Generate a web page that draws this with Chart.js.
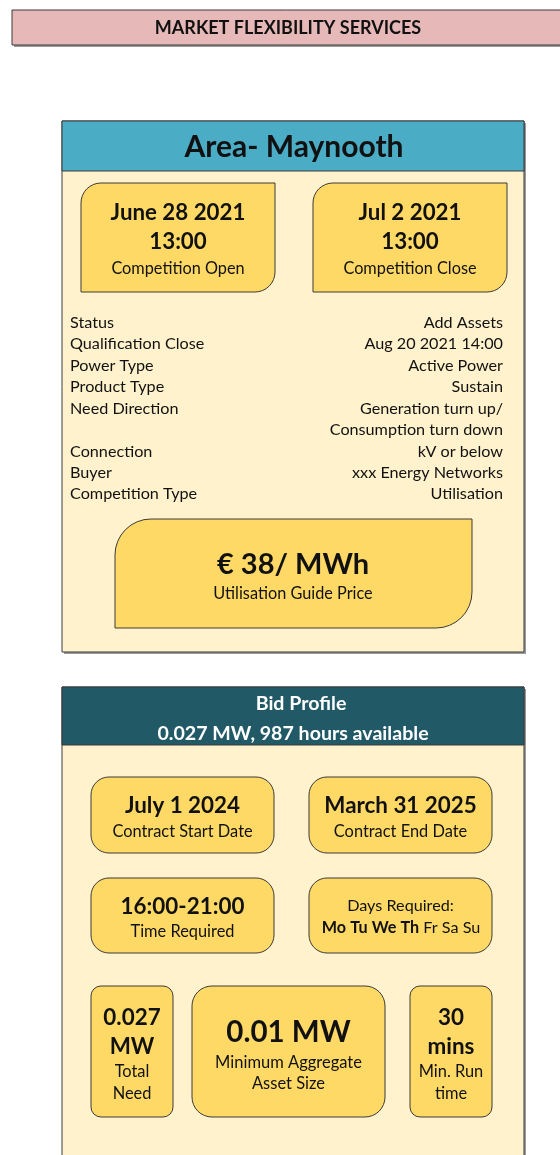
<!DOCTYPE html>
<html>
<head>
<meta charset="utf-8">
<title>Market Flexibility Services</title>
<script src="https://cdn.jsdelivr.net/npm/chart.js@4/dist/chart.umd.min.js"></script>
<style>
  html, body { margin: 0; padding: 0; background: #fff; }
  canvas { display: block; }
</style>
</head>
<body>
<canvas id="sheet" width="560" height="1155"></canvas>
<script>
/* ── Values ─────────────────────────────────────────────────── */
var sectionTitle      = 'MARKET FLEXIBILITY SERVICES';
var areaTitle         = 'Area- Maynooth';
var competitionDates  = ['June 28 2021', 'Jul 2 2021'];
var competitionTimes  = ['13:00', '13:00'];
var competitionLabels = ['Competition Open', 'Competition Close'];
var infoLabels = ['Status', 'Qualification Close', 'Power Type', 'Product Type',
                  'Need Direction', '', 'Connection', 'Buyer', 'Competition Type'];
var infoValues = ['Add Assets', 'Aug 20 2021 14:00', 'Active Power', 'Sustain',
                  'Generation turn up/', 'Consumption turn down', 'kV or below',
                  'xxx Energy Networks', 'Utilisation'];
var guidePrice      = ['€ 38/ MWh', 'Utilisation Guide Price'];
var bidTitle        = ['Bid Profile', '0.027 MW, 987 hours available'];
var contractDates   = ['July 1 2024', 'March 31 2025'];
var contractLabels  = ['Contract Start Date', 'Contract End Date'];
var timeRequired    = ['16:00-21:00', 'Time Required'];
var dayNames        = ['Mo', 'Tu', 'We', 'Th', 'Fr', 'Sa', 'Su'];
var dayRequired     = [true, true, true, true, false, false, false];
var bottomValues    = [['0.027', 'MW'], ['0.01 MW'], ['30', 'mins']];
var bottomLabels    = [['Total', 'Need'], ['Minimum Aggregate', 'Asset Size'], ['Min. Run', 'time']];

/* ── Styles ─────────────────────────────────────────────────── */
var FONT   = "Lato, 'Open Sans', sans-serif";
var INK    = '#111';
var EDGE   = '#3a3a3a';
var SHADOW = '#9a9a9a';
var PINK   = '#e6b8b7';
var BLUE   = '#4bacc6';
var TEAL   = '#215967';
var CREAM  = '#fff2cc';
var GOLD   = '#ffd966';
var NUDGE  = 1;   // Lato sits a touch high with a middle baseline

/* ── Drawing plugin: everything placed through the chart scales ─ */
var sheetPlugin = {
    id: 'sheet',
    beforeDraw: function (chart) {
        var ctx = chart.ctx;
        var sx = chart.scales.x, sy = chart.scales.y;
        function X(v) { return sx.getPixelForValue(v); }
        function Y(v) { return sy.getPixelForValue(v); }

        function box(x0, y0, x1, y1, fill, radii, shadow) {
            var x = X(x0), y = Y(y0), w = X(x1) - x, h = Y(y1) - y;
            if (shadow) {
                ctx.fillStyle = SHADOW;
                ctx.beginPath();
                ctx.roundRect(x + 2, y + 2, w, h, radii || 0);
                ctx.fill();
            }
            ctx.beginPath();
            ctx.roundRect(x, y, w, h, radii || 0);
            ctx.fillStyle = fill;
            ctx.fill();
            ctx.lineWidth = 1;
            ctx.strokeStyle = EDGE;
            ctx.stroke();
        }
        function text(str, x, y, size, bold, color, align) {
            ctx.font = (bold ? 'bold ' : '') + size + 'px ' + FONT;
            ctx.fillStyle = color || INK;
            ctx.textAlign = align || 'center';
            ctx.textBaseline = 'middle';
            ctx.fillText(str, X(x), Y(y + NUDGE));
        }

        ctx.save();

        // Section header
        box(12, 10, 575, 45, PINK, 0, true);
        text(sectionTitle, 288, 27, 18, true);

        // Area panel
        box(62, 121, 524, 652, CREAM, 0, true);
        box(62, 121, 524, 171, BLUE, 0, false);
        text(areaTitle, 294, 146, 30, true);

        var compX = [[81, 275], [313, 507]];
        compX.forEach(function (c, i) {
            box(c[0], 183, c[1], 292, GOLD, [20, 0, 20, 0], false);
            var mid = (c[0] + c[1]) / 2;
            text(competitionDates[i], mid, 212, 22.3, true);
            text(competitionTimes[i], mid, 241, 22.3, true);
            text(competitionLabels[i], mid, 268, 16.3, false);
        });

        var rowY = [322, 343, 365, 386, 408, 429, 451, 472, 493];
        infoLabels.forEach(function (lab, i) {
            if (lab) text(lab, 70, rowY[i], 16.2, false, INK, 'left');
            text(infoValues[i], 503, rowY[i], 16.2, false, INK, 'right');
        });

        box(115, 519, 472, 628, GOLD, [36, 0, 36, 0], false);
        text(guidePrice[0], 293, 564, 29, true);
        text(guidePrice[1], 293, 593, 16.3, false);

        // Bid profile panel
        box(62, 687, 524, 1175, CREAM, 0, true);
        box(62, 687, 524, 745, TEAL, 0, false);
        text(bidTitle[0], 301, 703, 19.6, true, '#fff');
        text(bidTitle[1], 293, 733, 19.6, true, '#fff');

        var pairX = [[91, 274], [309, 492]];
        pairX.forEach(function (c, i) {
            box(c[0], 777, c[1], 853, GOLD, 18, false);
            var mid = (c[0] + c[1]) / 2;
            text(contractDates[i], mid, 805, 22.4, true);
            text(contractLabels[i], mid, 831, 16.4, false);
        });

        box(91, 878, 274, 953, GOLD, 18, false);
        text(timeRequired[0], 182.5, 906, 22.4, true);
        text(timeRequired[1], 182.5, 931, 16.4, false);

        box(309, 878, 492, 953, GOLD, 18, false);
        text('Days Required:', 400.5, 905, 16.2, false);
        // day row: bold for required days, measured to centre the line
        var daySize = '16.2px ';
        var parts = dayNames.map(function (d, i) {
            ctx.font = (dayRequired[i] ? 'bold ' : '') + daySize + FONT;
            return { s: d, b: dayRequired[i], w: ctx.measureText(d).width };
        });
        ctx.font = daySize + FONT;
        var gap = ctx.measureText(' ').width;
        var total = parts.reduce(function (a, p) { return a + p.w; }, 0) + gap * (parts.length - 1);
        var cx = X(401) - total / 2;
        parts.forEach(function (p) {
            ctx.font = (p.b ? 'bold ' : '') + daySize + FONT;
            ctx.fillStyle = INK;
            ctx.textAlign = 'left';
            ctx.textBaseline = 'middle';
            ctx.fillText(p.s, cx, Y(927 + NUDGE));
            cx += p.w + gap;
        });

        var lowX = [[91, 173], [192, 385], [410, 492]];
        lowX.forEach(function (c, i) {
            box(c[0], 986, c[1], 1117, GOLD, i === 1 ? 20 : 10, false);
            var mid = (c[0] + c[1]) / 2;
            if (bottomValues[i].length === 2) {
                text(bottomValues[i][0], mid, 1017, 22.4, true);
                text(bottomValues[i][1], mid, 1046, 22.4, true);
                text(bottomLabels[i][0], mid, 1071, 16.4, false);
                text(bottomLabels[i][1], mid, 1093, 16.4, false);
            } else {
                text(bottomValues[i][0], mid, 1031, 29.5, true);
                text(bottomLabels[i][0], mid, 1062, 16.5, false);
                text(bottomLabels[i][1], mid, 1083, 16.5, false);
            }
        });

        ctx.restore();
    }
};

new Chart(document.getElementById('sheet'), {
    type: 'scatter',
    data: { datasets: [] },
    options: {
        responsive: false,
        animation: false,
        events: [],
        layout: { padding: 0 },
        plugins: { legend: { display: false }, tooltip: { enabled: false } },
        scales: {
            x: { type: 'linear', min: 0, max: 560, display: false },
            y: { type: 'linear', min: 0, max: 1155, reverse: true, display: false }
        }
    },
    plugins: [sheetPlugin]
});
</script>
</body>
</html>
